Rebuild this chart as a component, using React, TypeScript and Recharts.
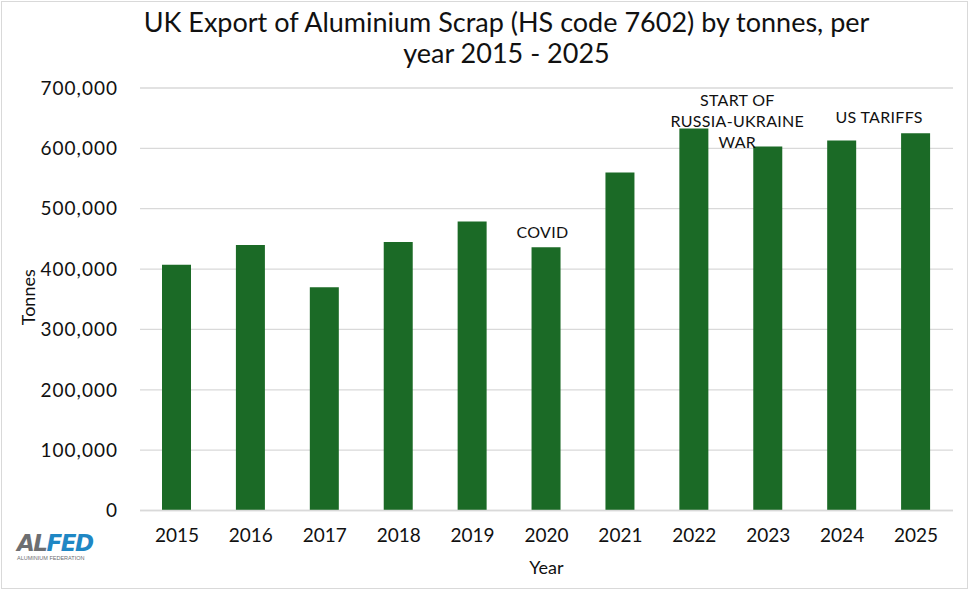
import React from "react";
import { BarChart, Bar, XAxis, YAxis, CartesianGrid, ReferenceDot } from "recharts";

const years = ["2015", "2016", "2017", "2018", "2019", "2020", "2021", "2022", "2023", "2024", "2025"];
const tonnes = [407000, 440000, 370000, 445000, 479000, 436000, 560000, 633000, 603000, 613000, 625000];
const yTicks = [0, 100000, 200000, 300000, 400000, 500000, 600000, 700000];

const data = years.map((year, i) => ({ year, tonnes: tonnes[i] }));

const FONT = "Lato, 'Noto Sans', sans-serif";
const BAR_COLOR = "#1b6a26";
const GRID_COLOR = "#d9d9d9";

type NoteProps = { viewBox?: any; lines: string[]; dx?: number };

// Multi-line note text centred on a reference point
const Note = ({ viewBox, lines, dx = 0 }: NoteProps) => {
  if (!viewBox) return null;
  const cx = viewBox.x + (viewBox.width || 0) / 2 + dx;
  const cy = viewBox.y + (viewBox.height || 0) / 2;
  const lh = 21;
  const start = cy - ((lines.length - 1) * lh) / 2;
  return (
    <g>
      {lines.map((t, i) => (
        <text
          key={i}
          x={cx}
          y={start + i * lh}
          textAnchor="middle"
          dominantBaseline="central"
          fontFamily={FONT}
          fontSize={16}
          letterSpacing={0.3}
          fill="#111"
        >
          {t}
        </text>
      ))}
    </g>
  );
};

const YTitle = ({ viewBox }: any) => {
  if (!viewBox) return null;
  const x = viewBox.x + 28;
  const y = viewBox.y + viewBox.height / 2 - 2;
  return (
    <text
      x={x}
      y={y}
      transform={`rotate(-90, ${x}, ${y})`}
      textAnchor="middle"
      dominantBaseline="central"
      fontFamily={FONT}
      fontSize={18}
      fill="#111"
    >
      Tonnes
    </text>
  );
};

const XTitle = ({ viewBox }: any) => {
  if (!viewBox) return null;
  return (
    <text
      x={viewBox.x + viewBox.width / 2}
      y={567}
      textAnchor="middle"
      dominantBaseline="central"
      fontFamily={FONT}
      fontSize={18}
      fill="#111"
    >
      Year
    </text>
  );
};

const fmt = (v: number) => v.toLocaleString("en-GB");

export default function App() {
  return (
    <div
      style={{
        position: "absolute",
        left: 0,
        top: 0,
        width: 969,
        height: 591,
        background: "#fff",
        fontFamily: FONT,
      }}
    >
      <div
        style={{
          position: "absolute",
          left: 1,
          top: 1,
          width: 965,
          height: 586,
          border: "1px solid #d9d9d9",
        }}
      />
      <div
        style={{
          position: "absolute",
          left: 60,
          top: 6,
          width: 893,
          textAlign: "center",
          fontSize: 27,
          lineHeight: "31px",
          color: "#111",
        }}
      >
        UK Export of Aluminium Scrap (HS code 7602) by tonnes, per
        <br />
        year 2015 - 2025
      </div>
      <BarChart
        width={969}
        height={591}
        data={data}
        margin={{ top: 88, right: 16, bottom: 50.5, left: 0 }}
        barSize={29}
      >
        <CartesianGrid vertical={false} stroke={GRID_COLOR} strokeWidth={1.3} />
        <XAxis
          dataKey="year"
          axisLine={{ stroke: GRID_COLOR, strokeWidth: 1.3 }}
          tickLine={false}
          tickMargin={12}
          tick={{ fontFamily: FONT, fontSize: 19, fill: "#111" }}
          label={<XTitle />}
        />
        <YAxis
          width={140}
          domain={[0, 700000]}
          ticks={yTicks}
          tickFormatter={fmt}
          axisLine={false}
          tickLine={false}
          tickMargin={16}
          tick={{ fontFamily: FONT, fontSize: 19, fill: "#111", letterSpacing: 1 }}
          label={<YTitle />}
        />
        <Bar dataKey="tonnes" fill={BAR_COLOR} isAnimationActive={false} />
        <ReferenceDot
          x="2020"
          y={463000}
          r={0}
          fill="none"
          stroke="none"
          label={<Note lines={["COVID"]} dx={-4} />}
        />
        <ReferenceDot
          x="2022"
          y={646000}
          r={0}
          fill="none"
          stroke="none"
          label={<Note lines={["START OF", "RUSSIA-UKRAINE", "WAR"]} dx={43} />}
        />
        <ReferenceDot
          x="2024"
          y={653000}
          r={0}
          fill="none"
          stroke="none"
          label={<Note lines={["US TARIFFS"]} dx={37} />}
        />
      </BarChart>
      <div style={{ position: "absolute", left: 17, top: 531, width: 76 }}>
        <div
          style={{
            fontFamily: "'DejaVu Sans', sans-serif",
            fontWeight: 900,
            fontStyle: "italic",
            fontSize: 23,
            lineHeight: "24px",
            letterSpacing: -1.5,
          }}
        >
          <span style={{ color: "#6d6e71" }}>AL</span>
          <span style={{ color: "#1f87c4" }}>FED</span>
        </div>
        <div
          style={{
            fontFamily: "'Liberation Sans', sans-serif",
            fontSize: 5.5,
            color: "#6d6e71",
            lineHeight: "6px",
            whiteSpace: "nowrap",
          }}
        >
          ALUMINIUM FEDERATION
        </div>
      </div>
    </div>
  );
}
